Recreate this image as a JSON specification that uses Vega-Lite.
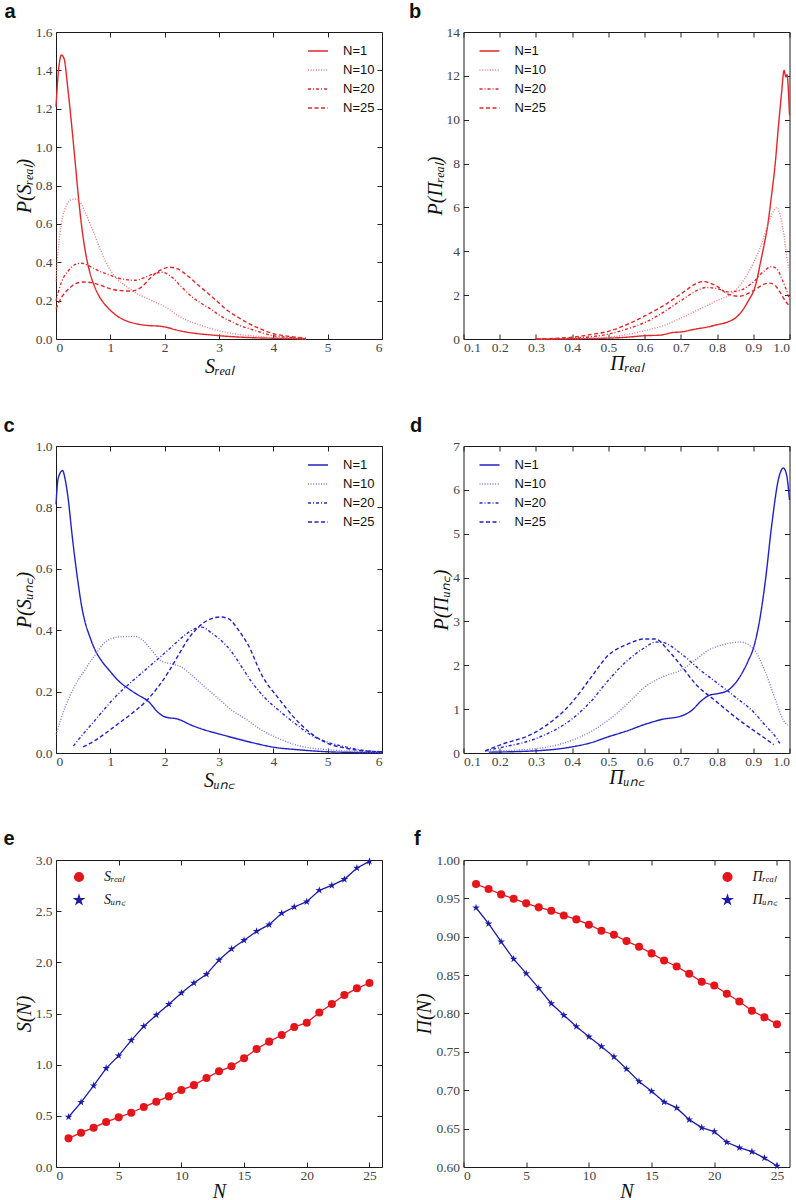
{
  "$schema": "https://vega.github.io/schema/vega-lite/v6.json",
  "background": "white",
  "padding": {"left": 2, "top": 0, "right": 6, "bottom": 0},
  "config": {
    "view": {"stroke": "#1a1a1a", "strokeWidth": 1},
    "axis": {
      "labelFont": "Liberation Serif", "labelFontSize": 13.5, "labelColor": "#444",
      "titleFont": "Liberation Serif", "titleFontStyle": "italic", "titleFontWeight": "normal",
      "titleFontSize": 20, "titleColor": "#111", "grid": false, "domain": false,
      "tickColor": "#222", "tickSize": -5, "labelPadding": 9, "titlePadding": 1
    },
    "axisX": {"labelPadding": 6, "titlePadding": 0},
    "legend": {
      "labelFont": "Liberation Sans", "labelFontSize": 13, "labelColor": "#111",
      "symbolType": "stroke", "symbolSize": 400, "symbolStrokeWidth": 1.5,
      "labelOffset": 14, "rowPadding": 1, "padding": 0
    }
  },
  "datasets": {
    "a": [
      {"N":"N=1","x":0,"y":1.21},{"N":"N=1","x":0.04,"y":1.38},{"N":"N=1","x":0.1,"y":1.48},{"N":"N=1","x":0.15,"y":1.46},{"N":"N=1","x":0.22,"y":1.3},{"N":"N=1","x":0.3,"y":1.08},{"N":"N=1","x":0.36,"y":0.9},{"N":"N=1","x":0.42,"y":0.72},{"N":"N=1","x":0.48,"y":0.57},{"N":"N=1","x":0.55,"y":0.44},{"N":"N=1","x":0.62,"y":0.35},{"N":"N=1","x":0.7,"y":0.28},{"N":"N=1","x":0.8,"y":0.22},{"N":"N=1","x":0.9,"y":0.18},{"N":"N=1","x":1.0,"y":0.15},{"N":"N=1","x":1.15,"y":0.115},{"N":"N=1","x":1.3,"y":0.094},{"N":"N=1","x":1.5,"y":0.078},{"N":"N=1","x":1.7,"y":0.07},{"N":"N=1","x":1.9,"y":0.067},{"N":"N=1","x":2.05,"y":0.06},{"N":"N=1","x":2.2,"y":0.048},{"N":"N=1","x":2.4,"y":0.036},{"N":"N=1","x":2.6,"y":0.028},{"N":"N=1","x":2.9,"y":0.02},{"N":"N=1","x":3.2,"y":0.013},{"N":"N=1","x":3.6,"y":0.007},{"N":"N=1","x":4.0,"y":0.004},{"N":"N=1","x":4.6,"y":0.001},
      {"N":"N=10","x":0,"y":0.3},{"N":"N=10","x":0.04,"y":0.46},{"N":"N=10","x":0.1,"y":0.6},{"N":"N=10","x":0.2,"y":0.7},{"N":"N=10","x":0.3,"y":0.728},{"N":"N=10","x":0.38,"y":0.73},{"N":"N=10","x":0.47,"y":0.7},{"N":"N=10","x":0.56,"y":0.645},{"N":"N=10","x":0.65,"y":0.585},{"N":"N=10","x":0.77,"y":0.5},{"N":"N=10","x":0.9,"y":0.41},{"N":"N=10","x":1.02,"y":0.35},{"N":"N=10","x":1.14,"y":0.31},{"N":"N=10","x":1.32,"y":0.27},{"N":"N=10","x":1.5,"y":0.235},{"N":"N=10","x":1.69,"y":0.21},{"N":"N=10","x":1.87,"y":0.186},{"N":"N=10","x":2.0,"y":0.17},{"N":"N=10","x":2.18,"y":0.134},{"N":"N=10","x":2.36,"y":0.104},{"N":"N=10","x":2.66,"y":0.072},{"N":"N=10","x":2.97,"y":0.045},{"N":"N=10","x":3.3,"y":0.026},{"N":"N=10","x":3.6,"y":0.017},{"N":"N=10","x":4.0,"y":0.007},{"N":"N=10","x":4.3,"y":0.004},{"N":"N=10","x":4.6,"y":0.001},
      {"N":"N=20","x":0,"y":0.2},{"N":"N=20","x":0.1,"y":0.296},{"N":"N=20","x":0.23,"y":0.357},{"N":"N=20","x":0.35,"y":0.388},{"N":"N=20","x":0.47,"y":0.395},{"N":"N=20","x":0.59,"y":0.383},{"N":"N=20","x":0.77,"y":0.357},{"N":"N=20","x":0.96,"y":0.336},{"N":"N=20","x":1.14,"y":0.318},{"N":"N=20","x":1.32,"y":0.308},{"N":"N=20","x":1.45,"y":0.306},{"N":"N=20","x":1.63,"y":0.32},{"N":"N=20","x":1.8,"y":0.34},{"N":"N=20","x":1.96,"y":0.348},{"N":"N=20","x":2.12,"y":0.325},{"N":"N=20","x":2.3,"y":0.275},{"N":"N=20","x":2.48,"y":0.225},{"N":"N=20","x":2.68,"y":0.185},{"N":"N=20","x":2.85,"y":0.155},{"N":"N=20","x":3.0,"y":0.125},{"N":"N=20","x":3.27,"y":0.085},{"N":"N=20","x":3.46,"y":0.062},{"N":"N=20","x":3.6,"y":0.05},{"N":"N=20","x":4.0,"y":0.017},{"N":"N=20","x":4.3,"y":0.008},{"N":"N=20","x":4.6,"y":0.003},
      {"N":"N=25","x":0,"y":0.157},{"N":"N=25","x":0.1,"y":0.217},{"N":"N=25","x":0.23,"y":0.26},{"N":"N=25","x":0.35,"y":0.287},{"N":"N=25","x":0.5,"y":0.297},{"N":"N=25","x":0.65,"y":0.294},{"N":"N=25","x":0.84,"y":0.278},{"N":"N=25","x":1.02,"y":0.26},{"N":"N=25","x":1.2,"y":0.252},{"N":"N=25","x":1.38,"y":0.25},{"N":"N=25","x":1.57,"y":0.27},{"N":"N=25","x":1.75,"y":0.322},{"N":"N=25","x":1.93,"y":0.36},{"N":"N=25","x":2.09,"y":0.374},{"N":"N=25","x":2.24,"y":0.365},{"N":"N=25","x":2.42,"y":0.33},{"N":"N=25","x":2.6,"y":0.285},{"N":"N=25","x":2.79,"y":0.24},{"N":"N=25","x":2.97,"y":0.195},{"N":"N=25","x":3.15,"y":0.15},{"N":"N=25","x":3.34,"y":0.115},{"N":"N=25","x":3.52,"y":0.085},{"N":"N=25","x":3.7,"y":0.06},{"N":"N=25","x":4.0,"y":0.028},{"N":"N=25","x":4.3,"y":0.013},{"N":"N=25","x":4.6,"y":0.004}
    ],
    "b": [
      {"N":"N=1","x":0.3,"y":0},{"N":"N=1","x":0.4,"y":0.01},{"N":"N=1","x":0.5,"y":0.04},{"N":"N=1","x":0.55,"y":0.08},{"N":"N=1","x":0.6,"y":0.15},{"N":"N=1","x":0.645,"y":0.18},{"N":"N=1","x":0.68,"y":0.3},{"N":"N=1","x":0.7,"y":0.32},{"N":"N=1","x":0.74,"y":0.45},{"N":"N=1","x":0.775,"y":0.55},{"N":"N=1","x":0.8,"y":0.65},{"N":"N=1","x":0.83,"y":0.78},{"N":"N=1","x":0.85,"y":0.95},{"N":"N=1","x":0.87,"y":1.3},{"N":"N=1","x":0.89,"y":1.85},{"N":"N=1","x":0.9,"y":2.15},{"N":"N=1","x":0.91,"y":2.7},{"N":"N=1","x":0.92,"y":3.5},{"N":"N=1","x":0.93,"y":4.3},{"N":"N=1","x":0.94,"y":5.2},{"N":"N=1","x":0.95,"y":6.5},{"N":"N=1","x":0.96,"y":7.9},{"N":"N=1","x":0.97,"y":9.8},{"N":"N=1","x":0.978,"y":11.2},{"N":"N=1","x":0.985,"y":12.25},{"N":"N=1","x":0.99,"y":11.95},{"N":"N=1","x":0.993,"y":12.05},{"N":"N=1","x":1.0,"y":10.2},
      {"N":"N=10","x":0.3,"y":0},{"N":"N=10","x":0.4,"y":0.02},{"N":"N=10","x":0.5,"y":0.08},{"N":"N=10","x":0.55,"y":0.2},{"N":"N=10","x":0.6,"y":0.38},{"N":"N=10","x":0.65,"y":0.6},{"N":"N=10","x":0.7,"y":0.95},{"N":"N=10","x":0.75,"y":1.35},{"N":"N=10","x":0.8,"y":1.75},{"N":"N=10","x":0.85,"y":2.2},{"N":"N=10","x":0.9,"y":3.45},{"N":"N=10","x":0.92,"y":4.2},{"N":"N=10","x":0.94,"y":5.2},{"N":"N=10","x":0.955,"y":5.8},{"N":"N=10","x":0.965,"y":6.0},{"N":"N=10","x":0.975,"y":5.6},{"N":"N=10","x":0.985,"y":4.7},{"N":"N=10","x":0.995,"y":3.5},{"N":"N=10","x":1.0,"y":3.1},
      {"N":"N=20","x":0.35,"y":0},{"N":"N=20","x":0.45,"y":0.1},{"N":"N=20","x":0.5,"y":0.22},{"N":"N=20","x":0.55,"y":0.45},{"N":"N=20","x":0.6,"y":0.75},{"N":"N=20","x":0.65,"y":1.2},{"N":"N=20","x":0.7,"y":1.75},{"N":"N=20","x":0.75,"y":2.25},{"N":"N=20","x":0.77,"y":2.35},{"N":"N=20","x":0.8,"y":2.3},{"N":"N=20","x":0.83,"y":2.15},{"N":"N=20","x":0.86,"y":2.2},{"N":"N=20","x":0.9,"y":2.6},{"N":"N=20","x":0.93,"y":3.1},{"N":"N=20","x":0.95,"y":3.3},{"N":"N=20","x":0.965,"y":3.2},{"N":"N=20","x":0.98,"y":2.7},{"N":"N=20","x":0.99,"y":2.3},{"N":"N=20","x":1.0,"y":1.8},
      {"N":"N=25","x":0.3,"y":0},{"N":"N=25","x":0.4,"y":0.08},{"N":"N=25","x":0.45,"y":0.2},{"N":"N=25","x":0.5,"y":0.35},{"N":"N=25","x":0.55,"y":0.65},{"N":"N=25","x":0.6,"y":1.05},{"N":"N=25","x":0.65,"y":1.5},{"N":"N=25","x":0.7,"y":2.05},{"N":"N=25","x":0.75,"y":2.58},{"N":"N=25","x":0.76,"y":2.62},{"N":"N=25","x":0.8,"y":2.4},{"N":"N=25","x":0.83,"y":2.05},{"N":"N=25","x":0.86,"y":1.95},{"N":"N=25","x":0.9,"y":2.2},{"N":"N=25","x":0.93,"y":2.5},{"N":"N=25","x":0.945,"y":2.55},{"N":"N=25","x":0.96,"y":2.45},{"N":"N=25","x":0.975,"y":2.1},{"N":"N=25","x":0.99,"y":1.7},{"N":"N=25","x":1.0,"y":1.5}
    ],
    "c": [
      {"N":"N=1","x":0,"y":0.81},{"N":"N=1","x":0.04,"y":0.895},{"N":"N=1","x":0.12,"y":0.92},{"N":"N=1","x":0.17,"y":0.89},{"N":"N=1","x":0.23,"y":0.82},{"N":"N=1","x":0.29,"y":0.72},{"N":"N=1","x":0.35,"y":0.63},{"N":"N=1","x":0.41,"y":0.55},{"N":"N=1","x":0.47,"y":0.48},{"N":"N=1","x":0.53,"y":0.43},{"N":"N=1","x":0.63,"y":0.375},{"N":"N=1","x":0.72,"y":0.335},{"N":"N=1","x":0.84,"y":0.3},{"N":"N=1","x":1.0,"y":0.265},{"N":"N=1","x":1.15,"y":0.235},{"N":"N=1","x":1.33,"y":0.21},{"N":"N=1","x":1.5,"y":0.19},{"N":"N=1","x":1.7,"y":0.168},{"N":"N=1","x":1.88,"y":0.132},{"N":"N=1","x":2.0,"y":0.118},{"N":"N=1","x":2.25,"y":0.11},{"N":"N=1","x":2.5,"y":0.09},{"N":"N=1","x":2.74,"y":0.075},{"N":"N=1","x":3.0,"y":0.062},{"N":"N=1","x":3.36,"y":0.045},{"N":"N=1","x":3.7,"y":0.03},{"N":"N=1","x":4.0,"y":0.019},{"N":"N=1","x":4.5,"y":0.01},{"N":"N=1","x":5.0,"y":0.004},{"N":"N=1","x":5.5,"y":0.002},{"N":"N=1","x":6.0,"y":0.001},
      {"N":"N=10","x":0,"y":0.06},{"N":"N=10","x":0.17,"y":0.15},{"N":"N=10","x":0.35,"y":0.22},{"N":"N=10","x":0.53,"y":0.27},{"N":"N=10","x":0.72,"y":0.32},{"N":"N=10","x":0.9,"y":0.36},{"N":"N=10","x":1.15,"y":0.378},{"N":"N=10","x":1.45,"y":0.38},{"N":"N=10","x":1.6,"y":0.367},{"N":"N=10","x":1.76,"y":0.335},{"N":"N=10","x":1.94,"y":0.3},{"N":"N=10","x":2.13,"y":0.29},{"N":"N=10","x":2.31,"y":0.28},{"N":"N=10","x":2.5,"y":0.253},{"N":"N=10","x":2.74,"y":0.215},{"N":"N=10","x":2.99,"y":0.177},{"N":"N=10","x":3.23,"y":0.14},{"N":"N=10","x":3.48,"y":0.112},{"N":"N=10","x":3.79,"y":0.074},{"N":"N=10","x":4.1,"y":0.047},{"N":"N=10","x":4.4,"y":0.027},{"N":"N=10","x":4.7,"y":0.016},{"N":"N=10","x":5.0,"y":0.011},{"N":"N=10","x":5.5,"y":0.005},{"N":"N=10","x":6.0,"y":0.002},
      {"N":"N=20","x":0.32,"y":0.023},{"N":"N=20","x":0.53,"y":0.068},{"N":"N=20","x":0.72,"y":0.107},{"N":"N=20","x":0.9,"y":0.145},{"N":"N=20","x":1.15,"y":0.193},{"N":"N=20","x":1.39,"y":0.232},{"N":"N=20","x":1.64,"y":0.27},{"N":"N=20","x":1.88,"y":0.307},{"N":"N=20","x":2.13,"y":0.346},{"N":"N=20","x":2.37,"y":0.384},{"N":"N=20","x":2.56,"y":0.405},{"N":"N=20","x":2.68,"y":0.41},{"N":"N=20","x":2.87,"y":0.39},{"N":"N=20","x":3.05,"y":0.365},{"N":"N=20","x":3.23,"y":0.33},{"N":"N=20","x":3.42,"y":0.28},{"N":"N=20","x":3.6,"y":0.232},{"N":"N=20","x":3.79,"y":0.19},{"N":"N=20","x":4.1,"y":0.139},{"N":"N=20","x":4.4,"y":0.096},{"N":"N=20","x":4.7,"y":0.058},{"N":"N=20","x":5.02,"y":0.034},{"N":"N=20","x":5.33,"y":0.02},{"N":"N=20","x":5.6,"y":0.01},{"N":"N=20","x":6.0,"y":0.004},
      {"N":"N=25","x":0.5,"y":0.02},{"N":"N=25","x":0.72,"y":0.041},{"N":"N=25","x":0.9,"y":0.063},{"N":"N=25","x":1.15,"y":0.096},{"N":"N=25","x":1.39,"y":0.128},{"N":"N=25","x":1.64,"y":0.166},{"N":"N=25","x":1.88,"y":0.215},{"N":"N=25","x":2.07,"y":0.264},{"N":"N=25","x":2.25,"y":0.318},{"N":"N=25","x":2.44,"y":0.373},{"N":"N=25","x":2.62,"y":0.41},{"N":"N=25","x":2.8,"y":0.433},{"N":"N=25","x":3.02,"y":0.443},{"N":"N=25","x":3.17,"y":0.438},{"N":"N=25","x":3.36,"y":0.4},{"N":"N=25","x":3.54,"y":0.351},{"N":"N=25","x":3.79,"y":0.253},{"N":"N=25","x":4.1,"y":0.177},{"N":"N=25","x":4.4,"y":0.112},{"N":"N=25","x":4.7,"y":0.063},{"N":"N=25","x":5.02,"y":0.03},{"N":"N=25","x":5.33,"y":0.016},{"N":"N=25","x":5.6,"y":0.008},{"N":"N=25","x":6.0,"y":0.004}
    ],
    "d": [
      {"N":"N=1","x":0.17,"y":0.02},{"N":"N=1","x":0.3,"y":0.05},{"N":"N=1","x":0.4,"y":0.14},{"N":"N=1","x":0.45,"y":0.23},{"N":"N=1","x":0.5,"y":0.37},{"N":"N=1","x":0.55,"y":0.5},{"N":"N=1","x":0.6,"y":0.65},{"N":"N=1","x":0.65,"y":0.77},{"N":"N=1","x":0.7,"y":0.84},{"N":"N=1","x":0.73,"y":0.97},{"N":"N=1","x":0.758,"y":1.2},{"N":"N=1","x":0.78,"y":1.32},{"N":"N=1","x":0.8,"y":1.35},{"N":"N=1","x":0.83,"y":1.43},{"N":"N=1","x":0.86,"y":1.7},{"N":"N=1","x":0.887,"y":2.12},{"N":"N=1","x":0.9,"y":2.38},{"N":"N=1","x":0.915,"y":2.91},{"N":"N=1","x":0.933,"y":3.9},{"N":"N=1","x":0.951,"y":5.2},{"N":"N=1","x":0.97,"y":6.26},{"N":"N=1","x":0.983,"y":6.5},{"N":"N=1","x":0.992,"y":6.34},{"N":"N=1","x":1.0,"y":5.77},
      {"N":"N=10","x":0.16,"y":0.04},{"N":"N=10","x":0.3,"y":0.1},{"N":"N=10","x":0.4,"y":0.29},{"N":"N=10","x":0.45,"y":0.48},{"N":"N=10","x":0.5,"y":0.75},{"N":"N=10","x":0.55,"y":1.1},{"N":"N=10","x":0.6,"y":1.5},{"N":"N=10","x":0.65,"y":1.74},{"N":"N=10","x":0.7,"y":1.89},{"N":"N=10","x":0.74,"y":2.12},{"N":"N=10","x":0.775,"y":2.34},{"N":"N=10","x":0.813,"y":2.46},{"N":"N=10","x":0.864,"y":2.53},{"N":"N=10","x":0.9,"y":2.38},{"N":"N=10","x":0.933,"y":1.85},{"N":"N=10","x":0.96,"y":1.24},{"N":"N=10","x":0.983,"y":0.75},{"N":"N=10","x":0.995,"y":0.63},
      {"N":"N=20","x":0.16,"y":0.05},{"N":"N=20","x":0.2,"y":0.12},{"N":"N=20","x":0.3,"y":0.33},{"N":"N=20","x":0.4,"y":0.78},{"N":"N=20","x":0.45,"y":1.16},{"N":"N=20","x":0.5,"y":1.66},{"N":"N=20","x":0.55,"y":2.09},{"N":"N=20","x":0.6,"y":2.4},{"N":"N=20","x":0.63,"y":2.53},{"N":"N=20","x":0.65,"y":2.52},{"N":"N=20","x":0.7,"y":2.27},{"N":"N=20","x":0.758,"y":1.86},{"N":"N=20","x":0.8,"y":1.6},{"N":"N=20","x":0.85,"y":1.28},{"N":"N=20","x":0.9,"y":0.94},{"N":"N=20","x":0.933,"y":0.63},{"N":"N=20","x":0.965,"y":0.33},{"N":"N=20","x":0.974,"y":0.21},
      {"N":"N=25","x":0.16,"y":0.05},{"N":"N=25","x":0.2,"y":0.18},{"N":"N=25","x":0.3,"y":0.48},{"N":"N=25","x":0.4,"y":1.16},{"N":"N=25","x":0.45,"y":1.7},{"N":"N=25","x":0.5,"y":2.23},{"N":"N=25","x":0.55,"y":2.47},{"N":"N=25","x":0.6,"y":2.6},{"N":"N=25","x":0.63,"y":2.6},{"N":"N=25","x":0.665,"y":2.34},{"N":"N=25","x":0.7,"y":2.0},{"N":"N=25","x":0.74,"y":1.58},{"N":"N=25","x":0.8,"y":1.16},{"N":"N=25","x":0.85,"y":0.82},{"N":"N=25","x":0.9,"y":0.52},{"N":"N=25","x":0.933,"y":0.33},{"N":"N=25","x":0.956,"y":0.19}
    ],
    "e": [
      {"series":"real","N":1,"y":0.28},{"series":"real","N":2,"y":0.335},{"series":"real","N":3,"y":0.384},{"series":"real","N":4,"y":0.44},{"series":"real","N":5,"y":0.485},{"series":"real","N":6,"y":0.53},{"series":"real","N":7,"y":0.586},{"series":"real","N":8,"y":0.638},{"series":"real","N":9,"y":0.69},{"series":"real","N":10,"y":0.752},{"series":"real","N":11,"y":0.8},{"series":"real","N":12,"y":0.87},{"series":"real","N":13,"y":0.935},{"series":"real","N":14,"y":0.984},{"series":"real","N":15,"y":1.062},{"series":"real","N":16,"y":1.153},{"series":"real","N":17,"y":1.225},{"series":"real","N":18,"y":1.29},{"series":"real","N":19,"y":1.368},{"series":"real","N":20,"y":1.41},{"series":"real","N":21,"y":1.51},{"series":"real","N":22,"y":1.593},{"series":"real","N":23,"y":1.68},{"series":"real","N":24,"y":1.746},{"series":"real","N":25,"y":1.798},
      {"series":"unc","N":1,"y":0.489},{"series":"unc","N":2,"y":0.632},{"series":"unc","N":3,"y":0.795},{"series":"unc","N":4,"y":0.964},{"series":"unc","N":5,"y":1.088},{"series":"unc","N":6,"y":1.238},{"series":"unc","N":7,"y":1.375},{"series":"unc","N":8,"y":1.485},{"series":"unc","N":9,"y":1.59},{"series":"unc","N":10,"y":1.7},{"series":"unc","N":11,"y":1.798},{"series":"unc","N":12,"y":1.883},{"series":"unc","N":13,"y":2.023},{"series":"unc","N":14,"y":2.13},{"series":"unc","N":15,"y":2.215},{"series":"unc","N":16,"y":2.303},{"series":"unc","N":17,"y":2.368},{"series":"unc","N":18,"y":2.479},{"series":"unc","N":19,"y":2.541},{"series":"unc","N":20,"y":2.593},{"series":"unc","N":21,"y":2.704},{"series":"unc","N":22,"y":2.752},{"series":"unc","N":23,"y":2.811},{"series":"unc","N":24,"y":2.922},{"series":"unc","N":25,"y":2.987}
    ],
    "f": [
      {"series":"real","N":1,"y":0.9687},{"series":"real","N":2,"y":0.9622},{"series":"real","N":3,"y":0.9552},{"series":"real","N":4,"y":0.9496},{"series":"real","N":5,"y":0.9435},{"series":"real","N":6,"y":0.9383},{"series":"real","N":7,"y":0.9339},{"series":"real","N":8,"y":0.9278},{"series":"real","N":9,"y":0.9226},{"series":"real","N":10,"y":0.9157},{"series":"real","N":11,"y":0.9078},{"series":"real","N":12,"y":0.9026},{"series":"real","N":13,"y":0.8943},{"series":"real","N":14,"y":0.887},{"series":"real","N":15,"y":0.8783},{"series":"real","N":16,"y":0.8691},{"series":"real","N":17,"y":0.8613},{"series":"real","N":18,"y":0.8517},{"series":"real","N":19,"y":0.8413},{"series":"real","N":20,"y":0.8365},{"series":"real","N":21,"y":0.8257},{"series":"real","N":22,"y":0.8157},{"series":"real","N":23,"y":0.8035},{"series":"real","N":24,"y":0.7952},{"series":"real","N":25,"y":0.7861},
      {"series":"unc","N":1,"y":0.9378},{"series":"unc","N":2,"y":0.917},{"series":"unc","N":3,"y":0.8935},{"series":"unc","N":4,"y":0.8709},{"series":"unc","N":5,"y":0.8522},{"series":"unc","N":6,"y":0.833},{"series":"unc","N":7,"y":0.813},{"series":"unc","N":8,"y":0.7978},{"series":"unc","N":9,"y":0.783},{"series":"unc","N":10,"y":0.7696},{"series":"unc","N":11,"y":0.757},{"series":"unc","N":12,"y":0.7435},{"series":"unc","N":13,"y":0.7278},{"series":"unc","N":14,"y":0.7113},{"series":"unc","N":15,"y":0.6987},{"series":"unc","N":16,"y":0.6848},{"series":"unc","N":17,"y":0.677},{"series":"unc","N":18,"y":0.6617},{"series":"unc","N":19,"y":0.6513},{"series":"unc","N":20,"y":0.6461},{"series":"unc","N":21,"y":0.6322},{"series":"unc","N":22,"y":0.6252},{"series":"unc","N":23,"y":0.62},{"series":"unc","N":24,"y":0.6117},{"series":"unc","N":25,"y":0.6013}
    ]
  },
  "columns": 2,
  "bounds": "flush",
  "spacing": {"row": 107, "column": 81.5},
  "resolve": {
    "scale": {"color": "independent", "strokeDash": "independent", "shape": "independent", "x": "independent", "y": "independent"},
    "legend": {"color": "independent", "strokeDash": "independent", "shape": "independent"}
  },
  "concat": [
    {
      "width": 326, "height": 307,
      "data": {"name": "a"},
      "layer": [
        {
          "mark": {"type": "line", "strokeWidth": 1.4, "interpolate": "monotone"},
          "encoding": {
            "x": {"field": "x", "type": "quantitative", "scale": {"domain": [0, 6], "nice": false}, "axis": {"values": [0,1,2,3,4,5,6], "format": "d", "title": "Sᵣₑₐₗ", "titlePadding": 3}},
            "y": {"field": "y", "type": "quantitative", "scale": {"domain": [0, 1.6], "nice": false}, "axis": {"values": [0,0.2,0.4,0.6,0.8,1.0,1.2,1.4,1.6], "format": ".1f", "title": "P(Sᵣₑₐₗ)"}},
            "color": {"field": "N", "type": "nominal", "scale": {"domain": ["N=1","N=10","N=20","N=25"], "range": ["#e2262b","#ef7d80","#e2262b","#e2262b"]}, "legend": {"title": null, "orient": "none", "legendX": 251, "legendY": 8}},
            "strokeDash": {"field": "N", "type": "nominal", "scale": {"domain": ["N=1","N=10","N=20","N=25"], "range": [[1,0],[1,1.6],[3,2,1,2],[4,2.5]]}, "legend": {"title": null, "orient": "none", "legendX": 251, "legendY": 8}}
          }
        },
        {
          "mark": {"type": "point", "opacity": 0},
          "encoding": {
            "x": {"field": "x", "type": "quantitative", "axis": {"orient": "top", "values": [0,1,2,3,4,5,6], "labels": false, "title": "a", "titleFont": "Liberation Sans", "titleFontStyle": "normal", "titleFontWeight": "bold", "titleFontSize": 20, "titleAngle": 0, "titleAlign": "left", "titleBaseline": "alphabetic", "titleX": -52, "titleY": -15}},
            "y": {"field": "y", "type": "quantitative", "axis": {"orient": "right", "values": [0,0.2,0.4,0.6,0.8,1.0,1.2,1.4,1.6], "labels": false, "title": null}}
          }
        }
      ],
      "resolve": {"axis": {"x": "independent", "y": "independent"}}
    },
    {
      "width": 326, "height": 307,
      "data": {"name": "b"},
      "layer": [
        {
          "mark": {"type": "line", "strokeWidth": 1.4, "interpolate": "monotone"},
          "encoding": {
            "x": {"field": "x", "type": "quantitative", "scale": {"domain": [0.1, 1.0], "nice": false, "zero": false}, "axis": {"values": [0.1,0.2,0.3,0.4,0.5,0.6,0.7,0.8,0.9,1.0], "format": ".1f", "title": "Πᵣₑₐₗ"}},
            "y": {"field": "y", "type": "quantitative", "scale": {"domain": [0, 14], "nice": false}, "axis": {"values": [0,2,4,6,8,10,12,14], "format": "d", "title": "P(Πᵣₑₐₗ)"}},
            "color": {"field": "N", "type": "nominal", "scale": {"domain": ["N=1","N=10","N=20","N=25"], "range": ["#e2262b","#ef7d80","#e2262b","#e2262b"]}, "legend": {"title": null, "orient": "none", "legendX": 15, "legendY": 8}},
            "strokeDash": {"field": "N", "type": "nominal", "scale": {"domain": ["N=1","N=10","N=20","N=25"], "range": [[1,0],[1,1.6],[3,2,1,2],[4,2.5]]}, "legend": {"title": null, "orient": "none", "legendX": 15, "legendY": 8}}
          }
        },
        {
          "mark": {"type": "point", "opacity": 0},
          "encoding": {
            "x": {"field": "x", "type": "quantitative", "axis": {"orient": "top", "values": [0.1,0.2,0.3,0.4,0.5,0.6,0.7,0.8,0.9,1.0], "labels": false, "title": "b", "titleFont": "Liberation Sans", "titleFontStyle": "normal", "titleFontWeight": "bold", "titleFontSize": 20, "titleAngle": 0, "titleAlign": "left", "titleBaseline": "alphabetic", "titleX": -55, "titleY": -15}},
            "y": {"field": "y", "type": "quantitative", "axis": {"orient": "right", "values": [0,2,4,6,8,10,12,14], "labels": false, "title": null}}
          }
        }
      ],
      "resolve": {"axis": {"x": "independent", "y": "independent"}}
    },
    {
      "width": 326, "height": 307,
      "data": {"name": "c"},
      "layer": [
        {
          "mark": {"type": "line", "strokeWidth": 1.4, "interpolate": "monotone"},
          "encoding": {
            "x": {"field": "x", "type": "quantitative", "scale": {"domain": [0, 6], "nice": false}, "axis": {"values": [0,1,2,3,4,5,6], "format": "d", "title": "Sᵤₙ꜀", "titlePadding": 3}},
            "y": {"field": "y", "type": "quantitative", "scale": {"domain": [0, 1.0], "nice": false}, "axis": {"values": [0,0.2,0.4,0.6,0.8,1.0], "format": ".1f", "title": "P(Sᵤₙ꜀)"}},
            "color": {"field": "N", "type": "nominal", "scale": {"domain": ["N=1","N=10","N=20","N=25"], "range": ["#2222c4","#7a7ae0","#2a2ad0","#2222c4"]}, "legend": {"title": null, "orient": "none", "legendX": 251, "legendY": 8}},
            "strokeDash": {"field": "N", "type": "nominal", "scale": {"domain": ["N=1","N=10","N=20","N=25"], "range": [[1,0],[1,1.6],[3,2,1,2],[4,2.5]]}, "legend": {"title": null, "orient": "none", "legendX": 251, "legendY": 8}}
          }
        },
        {
          "mark": {"type": "point", "opacity": 0},
          "encoding": {
            "x": {"field": "x", "type": "quantitative", "axis": {"orient": "top", "values": [0,1,2,3,4,5,6], "labels": false, "title": "c", "titleFont": "Liberation Sans", "titleFontStyle": "normal", "titleFontWeight": "bold", "titleFontSize": 20, "titleAngle": 0, "titleAlign": "left", "titleBaseline": "alphabetic", "titleX": -53, "titleY": -15}},
            "y": {"field": "y", "type": "quantitative", "axis": {"orient": "right", "values": [0,0.2,0.4,0.6,0.8,1.0], "labels": false, "title": null}}
          }
        }
      ],
      "resolve": {"axis": {"x": "independent", "y": "independent"}}
    },
    {
      "width": 326, "height": 307,
      "data": {"name": "d"},
      "layer": [
        {
          "mark": {"type": "line", "strokeWidth": 1.4, "interpolate": "monotone"},
          "encoding": {
            "x": {"field": "x", "type": "quantitative", "scale": {"domain": [0.1, 1.0], "nice": false, "zero": false}, "axis": {"values": [0.1,0.2,0.3,0.4,0.5,0.6,0.7,0.8,0.9,1.0], "format": ".1f", "title": "Πᵤₙ꜀"}},
            "y": {"field": "y", "type": "quantitative", "scale": {"domain": [0, 7], "nice": false}, "axis": {"values": [0,1,2,3,4,5,6,7], "format": "d", "title": "P(Πᵤₙ꜀)"}},
            "color": {"field": "N", "type": "nominal", "scale": {"domain": ["N=1","N=10","N=20","N=25"], "range": ["#2222c4","#7a7ae0","#2a2ad0","#2222c4"]}, "legend": {"title": null, "orient": "none", "legendX": 15, "legendY": 8}},
            "strokeDash": {"field": "N", "type": "nominal", "scale": {"domain": ["N=1","N=10","N=20","N=25"], "range": [[1,0],[1,1.6],[3,2,1,2],[4,2.5]]}, "legend": {"title": null, "orient": "none", "legendX": 15, "legendY": 8}}
          }
        },
        {
          "mark": {"type": "point", "opacity": 0},
          "encoding": {
            "x": {"field": "x", "type": "quantitative", "axis": {"orient": "top", "values": [0.1,0.2,0.3,0.4,0.5,0.6,0.7,0.8,0.9,1.0], "labels": false, "title": "d", "titleFont": "Liberation Sans", "titleFontStyle": "normal", "titleFontWeight": "bold", "titleFontSize": 20, "titleAngle": 0, "titleAlign": "left", "titleBaseline": "alphabetic", "titleX": -54, "titleY": -15}},
            "y": {"field": "y", "type": "quantitative", "axis": {"orient": "right", "values": [0,1,2,3,4,5,6,7], "labels": false, "title": null}}
          }
        }
      ],
      "resolve": {"axis": {"x": "independent", "y": "independent"}}
    },
    {
      "width": 326, "height": 307,
      "data": {"name": "e"},
      "layer": [
        {
          "mark": {"type": "line", "strokeWidth": 1.3},
          "encoding": {
            "x": {"field": "N", "type": "quantitative", "scale": {"domain": [0, 26], "nice": false}, "axis": {"values": [0,5,10,15,20,25], "format": "d", "title": "N"}},
            "y": {"field": "y", "type": "quantitative", "scale": {"domain": [0, 3.0], "nice": false}, "axis": {"values": [0,0.5,1.0,1.5,2.0,2.5,3.0], "format": ".1f", "title": "S(N)"}},
            "color": {"field": "series", "type": "nominal", "scale": {"domain": ["real","unc"], "range": ["#e3161c","#1c1ca8"]}, "legend": {"title": null, "orient": "none", "legendX": 16, "legendY": 10, "symbolSize": 75, "rowPadding": 7, "labelOffset": 18, "labelFont": "Liberation Serif", "labelFontStyle": "italic", "labelFontSize": 14, "labelExpr": "datum.label == 'real' ? 'Sᵣₑₐₗ' : 'Sᵤₙ꜀'"}}
          }
        },
        {
          "mark": {"type": "point", "opacity": 0},
          "encoding": {
            "x": {"field": "N", "type": "quantitative", "axis": {"orient": "top", "values": [0,5,10,15,20,25], "labels": false, "title": "e", "titleFont": "Liberation Sans", "titleFontStyle": "normal", "titleFontWeight": "bold", "titleFontSize": 20, "titleAngle": 0, "titleAlign": "left", "titleBaseline": "alphabetic", "titleX": -53, "titleY": -16}},
            "y": {"field": "y", "type": "quantitative", "axis": {"orient": "right", "values": [0,0.5,1.0,1.5,2.0,2.5,3.0], "labels": false, "title": null}}
          }
        },
        {
          "mark": {"type": "point", "filled": true, "opacity": 1, "size": 65},
          "encoding": {
            "x": {"field": "N", "type": "quantitative", "axis": null},
            "y": {"field": "y", "type": "quantitative", "axis": null},
            "color": {"field": "series", "type": "nominal", "scale": {"domain": ["real","unc"], "range": ["#e3161c","#1c1ca8"]}, "legend": {"title": null, "orient": "none", "legendX": 16, "legendY": 10, "symbolSize": 75, "rowPadding": 7, "labelOffset": 18, "labelFont": "Liberation Serif", "labelFontStyle": "italic", "labelFontSize": 14, "labelExpr": "datum.label == 'real' ? 'Sᵣₑₐₗ' : 'Sᵤₙ꜀'"}},
            "shape": {"field": "series", "type": "nominal", "scale": {"domain": ["real","unc"], "range": ["circle", "M0,-1L0.2245,-0.309L0.951,-0.309L0.363,0.118L0.588,0.809L0,0.382L-0.588,0.809L-0.363,0.118L-0.951,-0.309L-0.2245,-0.309Z"]}, "legend": {"title": null, "orient": "none", "legendX": 16, "legendY": 10, "symbolSize": 75, "rowPadding": 7, "labelOffset": 18, "labelFont": "Liberation Serif", "labelFontStyle": "italic", "labelFontSize": 14, "labelExpr": "datum.label == 'real' ? 'Sᵣₑₐₗ' : 'Sᵤₙ꜀'"}}
          }
        }
      ],
      "resolve": {"axis": {"x": "independent", "y": "independent"}}
    },
    {
      "width": 326, "height": 307,
      "data": {"name": "f"},
      "layer": [
        {
          "mark": {"type": "line", "strokeWidth": 1.3},
          "encoding": {
            "x": {"field": "N", "type": "quantitative", "scale": {"domain": [0, 26], "nice": false}, "axis": {"values": [0,5,10,15,20,25], "format": "d", "title": "N"}},
            "y": {"field": "y", "type": "quantitative", "scale": {"domain": [0.6, 1.0], "nice": false, "zero": false}, "axis": {"values": [0.6,0.65,0.7,0.75,0.8,0.85,0.9,0.95,1.0], "format": ".2f", "title": "Π(N)"}},
            "color": {"field": "series", "type": "nominal", "scale": {"domain": ["real","unc"], "range": ["#e3161c","#1c1ca8"]}, "legend": {"title": null, "orient": "none", "legendX": 257, "legendY": 10, "symbolSize": 75, "rowPadding": 7, "labelOffset": 18, "labelFont": "Liberation Serif", "labelFontStyle": "italic", "labelFontSize": 14, "labelExpr": "datum.label == 'real' ? 'Πᵣₑₐₗ' : 'Πᵤₙ꜀'"}}
          }
        },
        {
          "mark": {"type": "point", "opacity": 0},
          "encoding": {
            "x": {"field": "N", "type": "quantitative", "axis": {"orient": "top", "values": [0,5,10,15,20,25], "labels": false, "title": "f", "titleFont": "Liberation Sans", "titleFontStyle": "normal", "titleFontWeight": "bold", "titleFontSize": 20, "titleAngle": 0, "titleAlign": "left", "titleBaseline": "alphabetic", "titleX": -50, "titleY": -16}},
            "y": {"field": "y", "type": "quantitative", "axis": {"orient": "right", "values": [0.6,0.65,0.7,0.75,0.8,0.85,0.9,0.95,1.0], "labels": false, "title": null}}
          }
        },
        {
          "mark": {"type": "point", "filled": true, "opacity": 1, "size": 65},
          "encoding": {
            "x": {"field": "N", "type": "quantitative", "axis": null},
            "y": {"field": "y", "type": "quantitative", "axis": null},
            "color": {"field": "series", "type": "nominal", "scale": {"domain": ["real","unc"], "range": ["#e3161c","#1c1ca8"]}, "legend": {"title": null, "orient": "none", "legendX": 257, "legendY": 10, "symbolSize": 75, "rowPadding": 7, "labelOffset": 18, "labelFont": "Liberation Serif", "labelFontStyle": "italic", "labelFontSize": 14, "labelExpr": "datum.label == 'real' ? 'Πᵣₑₐₗ' : 'Πᵤₙ꜀'"}},
            "shape": {"field": "series", "type": "nominal", "scale": {"domain": ["real","unc"], "range": ["circle", "M0,-1L0.2245,-0.309L0.951,-0.309L0.363,0.118L0.588,0.809L0,0.382L-0.588,0.809L-0.363,0.118L-0.951,-0.309L-0.2245,-0.309Z"]}, "legend": {"title": null, "orient": "none", "legendX": 257, "legendY": 10, "symbolSize": 75, "rowPadding": 7, "labelOffset": 18, "labelFont": "Liberation Serif", "labelFontStyle": "italic", "labelFontSize": 14, "labelExpr": "datum.label == 'real' ? 'Πᵣₑₐₗ' : 'Πᵤₙ꜀'"}}
          }
        }
      ],
      "resolve": {"axis": {"x": "independent", "y": "independent"}}
    }
  ]
}
